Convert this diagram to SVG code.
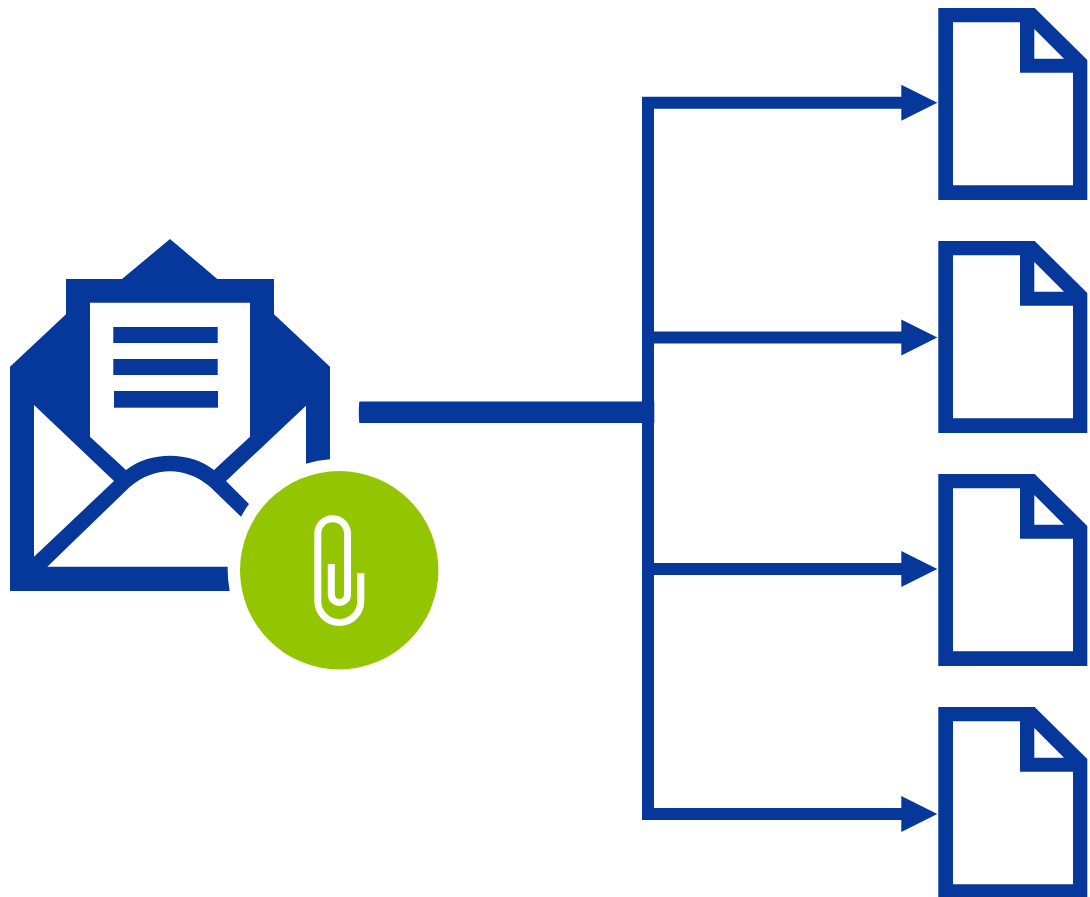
<svg xmlns="http://www.w3.org/2000/svg" width="1090" height="897" viewBox="0 0 1090 897">
<style>
.b{fill:#06389b}
.w{fill:none;stroke:#06389b;stroke-width:12}
.c{fill:none;stroke:#fff;stroke-width:7}
</style>
<defs>
<path id="doc" class="b" fill-rule="evenodd" d="M938.3 8H1034.7L1087.3 60V200H938.3ZM953 22.3V185.3H1073V72.7H1020V22.3ZM1034.3 29V58.7H1064Z"/>
<polygon id="head" class="b" points="901.3,-18 937.3,0 901.3,18"/>
</defs>
<rect width="1090" height="897" fill="#fff"/>
<g id="connectors">
<path class="w" d="M905 102.7H648V814H905M648 337.5H905M648 569H905"/>
<path class="b" d="M359.3 401.5H654.3V423H359.3Q358.3 412 359.3 401.5Z"/>
<use href="#head" y="102.7"/>
<use href="#head" y="337.5"/>
<use href="#head" y="569"/>
<use href="#head" y="814"/>
</g>
<g id="envelope">
<path class="b" fill-rule="evenodd" d="M10 366.7L66 314.3V279H122L170 239L217.3 279H274V314.3L330 366.7V459.3A111.3 111.3 0 0 0 306 463.7V405.7L226 481L249 504A111.3 111.3 0 0 0 241 516.7L210 486.7C186 466 154 466 130 486.7L47.3 566.7H227.7A111.3 111.3 0 0 0 229.7 591H10ZM34 405V556.7L114 481ZM90 302.7V436.7L126 470C150 451 190 451 214 470L250 436.7V302.7Z"/>
<rect class="b" x="113.3" y="327" width="104.4" height="16"/>
<rect class="b" x="113.3" y="359" width="104.4" height="16"/>
<rect class="b" x="114" y="391" width="104" height="16.7"/>
</g>
<g id="attachment">
<circle cx="339.2" cy="570.2" r="99.2" fill="#93c600"/>
<path class="c" d="M360.8 573V601A21.5 21.5 0 0 1 317.8 601V533.6A14.85 14.85 0 0 1 347.5 533.6V594.4A8.1 8.1 0 0 1 331.3 594.4V564"/>
</g>
<g id="doc1"><use href="#doc"/></g>
<g id="doc2"><use href="#doc" y="233"/></g>
<g id="doc3"><use href="#doc" y="466"/></g>
<g id="doc4"><use href="#doc" y="699"/></g>
</svg>
